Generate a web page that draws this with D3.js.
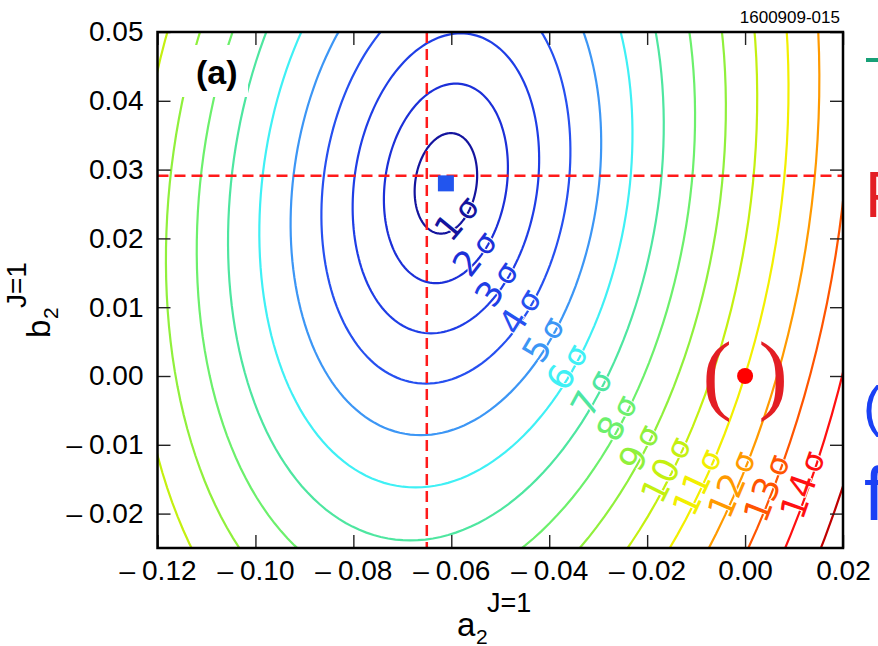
<!DOCTYPE html>
<html lang="en">
<head>
<meta charset="UTF-8"/>
<title>a2 vs b2 - contornos</title>
<script src="https://d3js.org/d3.v7.min.js"></script>
<style>
  body { margin: 0; background: #fff; overflow: hidden; }
  svg { display: block; font-family: "Liberation Sans", Arial, sans-serif; }
  .axis text { font-size: 28px; fill: #000; }
  .axis line { stroke: #222; stroke-width: 1.4; }
  .axis path { display: none; }
  .contour { fill: none; stroke-width: 2.2; }
  .clabel { font-family: "DejaVu Sans", sans-serif; paint-order: stroke; stroke: #fff; stroke-width: 2; }
  .clabel .num { font-size: 35px; }
  .clabel .sig { font-size: 31px; }
</style>
</head>
<body>
<div id="chart"></div>
<script>
// niveles de contorno (n sigma)
const levels = [1, 2, 3, 4, 5, 6, 7, 8, 9, 10, 11, 12, 13, 14, 15];
const levelColors = ["#14149e", "#1c30d8", "#1f3ee6", "#2650f0", "#3c96f5", "#3ff0f5", "#4ee6a0",
                     "#6cf06c", "#90f03c", "#c4f010", "#f2ef00", "#ff9a00", "#ff5500", "#ff1010", "#c00000"];
// semiejes de cada contorno
const semiA = [0.0063, 0.0125, 0.0188, 0.0251, 0.0313, 0.0376, 0.0439, 0.0502,
               0.0564, 0.0627, 0.0690, 0.0752, 0.0815, 0.0878, 0.0941];
const semiB = [0.0073, 0.0145, 0.0218, 0.0291, 0.0366, 0.0442, 0.0519, 0.0596,
               0.0673, 0.0753, 0.0831, 0.0910, 0.1003, 0.1090, 0.1177];
const tilt = 0.14; // da/db de los contornos
// b donde va la etiqueta de cada contorno (1..14)
const labelB = [0.0224, 0.0173, 0.0129, 0.0089, 0.0049, 0.0009, -0.0029,
                -0.0065, -0.0108, -0.0140, -0.0158, -0.0161, -0.0166, -0.0161];

const bestFit = { a: -0.0611, b: 0.0280 };
const refLines = { a: -0.0650, b: 0.0291 };
const smPoint = { a: 0.0, b: 0.0 };

const xTicks = [-0.12, -0.10, -0.08, -0.06, -0.04, -0.02, 0.00, 0.02];
const yTicks = [-0.02, -0.01, 0.00, 0.01, 0.02, 0.03, 0.04, 0.05];

const W = 878, H = 646;
const L = 157.5, R = 843, T = 32, B = 548;

const svg = d3.select("#chart").append("svg")
    .attr("width", W)
    .attr("height", H);

const x = d3.scaleLinear().domain([-0.12, 0.02]).range([L, R]);
const y = d3.scaleLinear().domain([-0.025, 0.05]).range([B, T]);

svg.append("clipPath").attr("id", "plot")
  .append("rect")
    .attr("x", L).attr("y", T)
    .attr("width", R - L).attr("height", B - T);

const plot = svg.append("g").attr("clip-path", "url(#plot)");

function contourPts(i) {
    return d3.range(0, 360, 2).map(deg => {
        const t = deg * Math.PI / 180;
        const db = semiB[i] * Math.sin(t);
        return [x(bestFit.a + semiA[i] * Math.cos(t) + tilt * db), y(bestFit.b + db)];
    });
}

const line = d3.line().curve(d3.curveLinearClosed);

plot.selectAll("path.contour")
    .data(levels)
    .enter()
    .append("path")
    .attr("class", "contour")
    .attr("stroke", (d, i) => levelColors[i])
    .attr("d", (d, i) => line(contourPts(i)));

// etiquetas sobre los contornos
const labels = labelB.map((b, i) => {
    const db = b - bestFit.b;
    const t = Math.asin(db / semiB[i]);
    const a = bestFit.a + semiA[i] * Math.cos(t) + tilt * db;
    const da = -semiA[i] * Math.sin(t) + tilt * semiB[i] * Math.cos(t);
    const dbt = semiB[i] * Math.cos(t);
    const ang = Math.atan2(y(dbt) - y(0), x(da) - x(0)) * 180 / Math.PI;
    return { n: levels[i], px: x(a), py: y(b), ang, color: levelColors[i] };
});

const lab = plot.selectAll("text.clabel")
    .data(labels)
    .enter()
    .append("text")
    .attr("class", "clabel")
    .attr("text-anchor", "middle")
    .attr("dy", "0.35em")
    .attr("fill", d => d.color)
    .attr("transform", d => `translate(${d.px},${d.py}) rotate(${d.ang})`);
lab.append("tspan").attr("class", "num").text(d => d.n);
lab.append("tspan").attr("class", "sig").attr("dx", 5).text("σ");

// recuadro (a)
svg.append("rect")
    .attr("x", 168).attr("y", 45)
    .attr("width", 80).attr("height", 52)
    .attr("fill", "#fff");
svg.append("text")
    .attr("x", 196).attr("y", 84)
    .attr("font-size", 34)
    .attr("font-weight", "bold")
    .text("(a)");

// lineas de referencia
plot.append("line")
    .attr("x1", x(refLines.a)).attr("x2", x(refLines.a))
    .attr("y1", T).attr("y2", B)
    .attr("stroke", "#ff1a1a").attr("stroke-width", 2.5)
    .attr("stroke-dasharray", "11,6");
plot.append("line")
    .attr("x1", L).attr("x2", R)
    .attr("y1", y(refLines.b)).attr("y2", y(refLines.b))
    .attr("stroke", "#ff1a1a").attr("stroke-width", 2.5)
    .attr("stroke-dasharray", "11,6");

// mejor ajuste
plot.append("rect")
    .attr("x", x(bestFit.a) - 8).attr("y", y(bestFit.b) - 8)
    .attr("width", 16).attr("height", 16)
    .attr("fill", "#2255ee");

// punto SM con parentesis
svg.append("text")
    .attr("x", x(smPoint.a) - 28).attr("y", y(smPoint.b) + 27)
    .attr("text-anchor", "middle")
    .attr("font-family", "Liberation Serif, serif")
    .attr("font-size", 88)
    .attr("fill", "#e31e24")
    .text("(");
svg.append("text")
    .attr("x", x(smPoint.a) + 28).attr("y", y(smPoint.b) + 27)
    .attr("text-anchor", "middle")
    .attr("font-family", "Liberation Serif, serif")
    .attr("font-size", 88)
    .attr("fill", "#e31e24")
    .text(")");
svg.append("circle")
    .attr("cx", x(smPoint.a)).attr("cy", y(smPoint.b))
    .attr("r", 8)
    .attr("fill", "#ff0000");

// ejes
const fmt = d => (d < 0 ? "\u2013\u2005" : "") + Math.abs(d).toFixed(2);

svg.append("g").attr("class", "axis")
    .attr("transform", `translate(0,${B})`)
    .call(d3.axisBottom(x).tickValues(xTicks).tickFormat(fmt).tickSize(-13).tickPadding(12));
svg.append("g").attr("class", "axis")
    .attr("transform", `translate(0,${T})`)
    .call(d3.axisTop(x).tickValues(xTicks).tickFormat("").tickSize(-13));
svg.append("g").attr("class", "axis")
    .attr("transform", `translate(${L},0)`)
    .call(d3.axisLeft(y).tickValues(yTicks).tickFormat(fmt).tickSize(-13).tickPadding(14));
svg.append("g").attr("class", "axis")
    .attr("transform", `translate(${R},0)`)
    .call(d3.axisRight(y).tickValues(yTicks).tickFormat("").tickSize(-13));

svg.append("rect")
    .attr("x", L).attr("y", T)
    .attr("width", R - L).attr("height", B - T)
    .attr("fill", "none")
    .attr("stroke", "#000")
    .attr("stroke-width", 2.5);

// titulos de ejes
const xt = svg.append("g").attr("transform", "translate(457,636)");
xt.append("text").attr("font-size", 33).text("a");
xt.append("text").attr("x", 19).attr("y", 8).attr("font-size", 21).text("2");
xt.append("text").attr("x", 30).attr("y", -24).attr("font-size", 27).text("J=1");

const yt = svg.append("g").attr("transform", "translate(50,338) rotate(-90)");
yt.append("text").attr("font-size", 33).text("b");
yt.append("text").attr("x", 19).attr("y", 8).attr("font-size", 21).text("2");
yt.append("text").attr("x", 30).attr("y", -24).attr("font-size", 28).text("J=1");

// codigo de figura
svg.append("text")
    .attr("x", 840).attr("y", 23)
    .attr("text-anchor", "end")
    .attr("font-size", 17)
    .text("1600909-015");

// leyenda cortada por el borde derecho
svg.append("line")
    .attr("x1", 866).attr("x2", 900)
    .attr("y1", 60).attr("y2", 60)
    .attr("stroke", "#17a077").attr("stroke-width", 4);
svg.append("text")
    .attr("x", 865).attr("y", 217)
    .attr("font-size", 64)
    .attr("fill", "#e31e24")
    .text("P");
svg.append("text")
    .attr("x", 863).attr("y", 425)
    .attr("font-size", 56)
    .attr("fill", "#1a40f5")
    .text("(");
svg.append("text")
    .attr("x", 864).attr("y", 520)
    .attr("font-size", 76)
    .attr("fill", "#1a40f5")
    .text("f");
</script>
</body>
</html>
